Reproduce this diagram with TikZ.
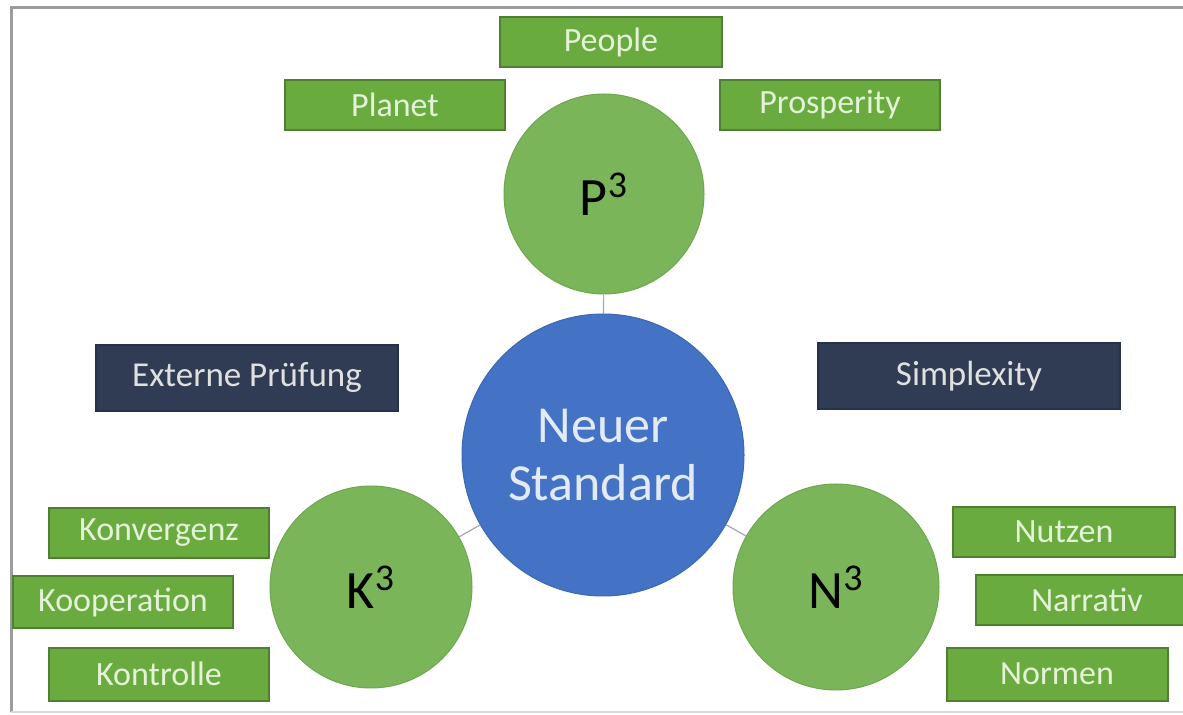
\documentclass[tikz,border=0pt]{standalone}
\usepackage{fontspec}
\setmainfont{Carlito}
\definecolor{boxgreen}{HTML}{6AAB3F}
\definecolor{boxedge}{HTML}{4F7F30}
\definecolor{circgreen}{HTML}{7BB55A}
\definecolor{circedge}{HTML}{6FA64F}
\definecolor{lightgreentext}{HTML}{E4F2D8}
\definecolor{darkbox}{HTML}{2F3C54}
\definecolor{darkedge}{HTML}{27324A}
\definecolor{bluecirc}{HTML}{4472C4}
\definecolor{bluetext}{HTML}{E2EAF6}
\definecolor{framegray}{HTML}{9C9C9C}
\definecolor{linkgray}{HTML}{A6A6B4}
\begin{document}
\begin{tikzpicture}[x=0.5pt,y=-0.5pt,
  greenbox/.style={draw=boxedge,line width=1pt,fill=boxgreen,inner sep=0pt,
    text=lightgreentext,font=\fontsize{17}{20}\selectfont},
  darkbx/.style={draw=darkedge,line width=0.6pt,fill=darkbox,inner sep=0pt,
    minimum width=151pt,minimum height=33pt,
    text=white!88!black,font=\fontsize{17.5}{21}\selectfont},
  gcirc/.style={circle,draw=circedge,line width=0.5pt,fill=circgreen,inner sep=0pt,
    text=black,font=\fontsize{27}{30}\selectfont},
  link/.style={draw=linkgray,line width=0.6pt}]
\useasboundingbox (0,0) rectangle (1183,715);
\fill[white] (0,0) rectangle (1183,715);
% frame
\coordinate (fbl) at (11,712);
\coordinate (ftl) at (11,8);
\coordinate (ftr) at (1190,8);
\coordinate (fbr) at (1190,712);
\draw[framegray,line width=1.5pt] (fbl) -- (ftl) -- (ftr);
\draw[black!15,line width=0.8pt] (fbl) -- (fbr);
% circles
\node[gcirc,minimum size=100pt] (P3) at (604,194) {P\textsuperscript{3}};
\node[circle,fill=bluecirc,draw=bluecirc!90!black,line width=0.5pt,inner sep=0pt,minimum size=141pt,
  text=bluetext,align=center,font=\fontsize{26}{29}\selectfont] (NS) at (603,455) {Neuer\\Standard};
\node[gcirc,minimum size=101pt] (K3) at (371,587) {K\textsuperscript{3}};
\node[gcirc,minimum size=103pt] (N3) at (836,587) {N\textsuperscript{3}};
% connectors
\draw[link] (P3) -- (NS);
\draw[link] (K3) -- (NS);
\draw[link] (N3) -- (NS);
% top boxes
\node[greenbox,minimum width=111pt,minimum height=25pt] (people) at (611,42) {People};
\node[greenbox,minimum width=110pt,minimum height=25pt] (planet) at (395,105) {Planet};
\node[greenbox,minimum width=110pt,minimum height=25pt] (prosp) at (830,105) {Prosperity};
% dark boxes
\node[darkbx] (ext) at (247,378) {Externe Prüfung};
\node[darkbx] (simp) at (969,376) {Simplexity};
% left boxes
\node[greenbox,minimum width=110pt,minimum height=25pt] (konv) at (159,533) {Konvergenz};
\node[greenbox,minimum width=110pt,minimum height=25.5pt] (koop) at (123,602) {Kooperation};
\node[greenbox,minimum width=110pt,minimum height=26.5pt] (kontr) at (159,674) {Kontrolle};
% right boxes
\node[greenbox,minimum width=111pt,minimum height=25pt] (nutz) at (1064,532) {Nutzen};
\node[greenbox,minimum width=111pt,minimum height=25pt] (narr) at (1087,600) {Narrativ};
\node[greenbox,minimum width=110.5pt,minimum height=26.5pt] (norm) at (1057,674) {Normen};
\end{tikzpicture}
\end{document}
